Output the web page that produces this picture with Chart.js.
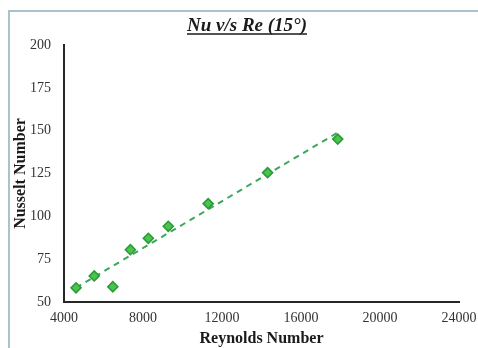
<!DOCTYPE html>
<html>
<head>
<meta charset="utf-8">
<script src="https://cdn.jsdelivr.net/npm/chart.js@4"></script>
<style>
  body { margin: 0; background: #fff; }
  canvas { display: block; }
</style>
</head>
<body>
<canvas id="myChart" width="478" height="348"></canvas>
<script>
// measured points (Reynolds number vs Nusselt number, 15 deg)
const reValues = [4610, 5530, 6470, 7360, 8270, 9280, 11300, 14310, 17860];
const nuValues = [58.3, 65.2, 58.9, 80.5, 87.2, 94.2, 107.4, 125.5, 145.1];

// linear trendline end points
const trendRe = [4610, 17860];
const trendNu = [58.3, 148.9];

const chartTitle = "Nu v/s Re (15°)";
const xTitle = "Reynolds Number";
const yTitle = "Nusselt Number";

const serif = '"Liberation Serif", "Times New Roman", serif';

// light frame round the plot, like the spreadsheet chart box
const framePlugin = {
    id: "frame",
    beforeDraw(chart) {
        const ctx = chart.ctx;
        ctx.save();
        ctx.strokeStyle = "#a9c3cb";
        ctx.lineWidth = 2;
        ctx.beginPath();
        ctx.moveTo(9, chart.height);
        ctx.lineTo(9, 11);
        ctx.lineTo(chart.width, 11);
        ctx.stroke();
        ctx.restore();
    }
};

// bold italic underlined heading
const headingPlugin = {
    id: "heading",
    afterDraw(chart) {
        const ctx = chart.ctx;
        ctx.save();
        ctx.font = "italic bold 19px " + serif;
        ctx.fillStyle = "#1a1a1a";
        ctx.textAlign = "center";
        ctx.textBaseline = "alphabetic";
        const cx = 247, base = 31;
        ctx.fillText(chartTitle, cx, base);
        const w = ctx.measureText(chartTitle).width;
        ctx.strokeStyle = "#1a1a1a";
        ctx.lineWidth = 1.3;
        ctx.beginPath();
        ctx.moveTo(cx - w / 2, base + 3);
        ctx.lineTo(cx + w / 2, base + 3);
        ctx.stroke();
        ctx.restore();
    }
};

const points = reValues.map((re, i) => ({ x: re, y: nuValues[i] }));
const trend = trendRe.map((re, i) => ({ x: re, y: trendNu[i] }));

window.myChart = new Chart("myChart", {
    type: "scatter",
    data: {
        datasets: [{
            label: "Nu",
            data: points,
            pointStyle: "rectRot",
            pointRadius: 5,
            backgroundColor: "#4cc44c",
            borderColor: "#2a9a3a",
            borderWidth: 1.6,
            order: 0
        }, {
            type: "line",
            label: "Linear",
            data: trend,
            borderColor: "#3aa85a",
            borderWidth: 2,
            borderDash: [6, 5],
            pointRadius: 0,
            fill: false,
            order: 1
        }]
    },
    options: {
        responsive: false,
        animation: false,
        layout: { padding: { top: 45, right: 19, bottom: 0, left: 0 } },
        plugins: {
            legend: { display: false },
            tooltip: { enabled: false },
            title: { display: false }
        },
        scales: {
            x: {
                type: "linear",
                min: 4000,
                max: 24000,
                afterFit: s => { s.height = 46; s.paddingLeft = 0; s.paddingRight = 0; },
                grid: { display: false, drawTicks: false },
                border: { display: true, color: "#262626", width: 2 },
                ticks: {
                    stepSize: 4000,
                    padding: 8,
                    color: "#333",
                    font: { family: serif, size: 14 },
                    callback: v => String(v)
                },
                title: {
                    display: true,
                    text: xTitle,
                    color: "#1a1a1a",
                    font: { family: serif, size: 16, weight: "bold" },
                    padding: { top: 0, bottom: 0 }
                }
            },
            y: {
                min: 50,
                max: 200,
                afterFit: s => { s.width = 64; },
                grid: { display: false, drawTicks: false },
                border: { display: true, color: "#262626", width: 2 },
                ticks: {
                    stepSize: 25,
                    padding: 13,
                    color: "#333",
                    font: { family: serif, size: 14 },
                    callback: v => String(v)
                },
                title: {
                    display: true,
                    text: yTitle,
                    color: "#1a1a1a",
                    font: { family: serif, size: 16, weight: "bold" },
                    padding: { top: 11, bottom: 0 }
                }
            }
        }
    },
    plugins: [framePlugin, headingPlugin]
});
</script>
</body>
</html>
